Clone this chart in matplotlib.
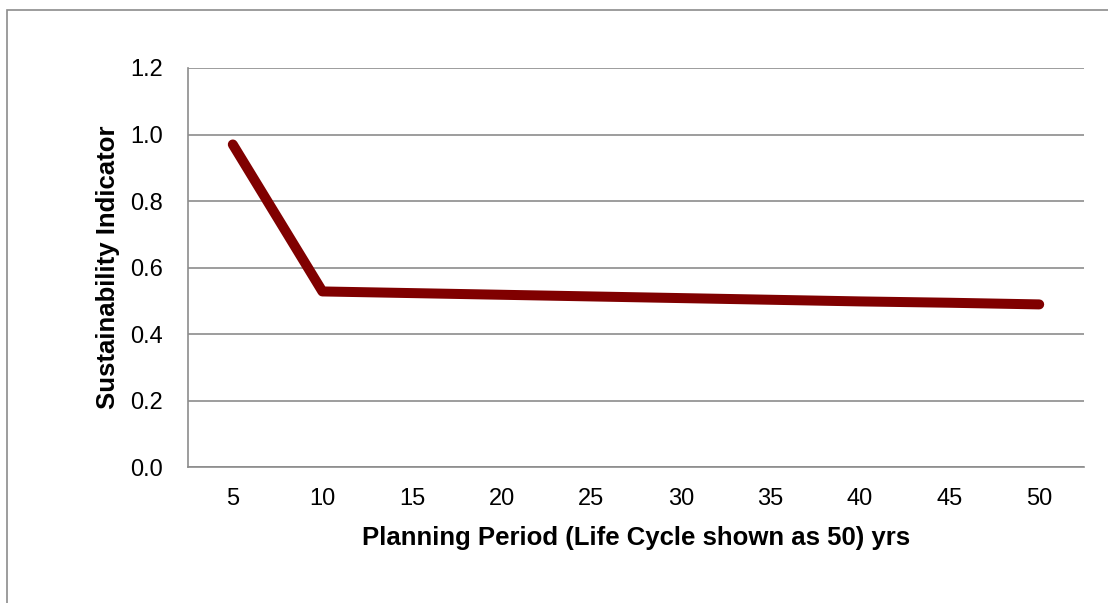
import numpy as np
import matplotlib
matplotlib.use('Agg')
import matplotlib.pyplot as plt
from matplotlib.patches import Rectangle

plt.rcParams['font.family'] = ['Liberation Sans', 'DejaVu Sans']

# --- data ---
periods = ['5', '10', '15', '20', '25', '30', '35', '40', '45', '50']
indicator = [0.97, 0.528, 0.523, 0.518, 0.513, 0.508, 0.503, 0.498, 0.494, 0.489]

fig = plt.figure(figsize=(11.08, 6.03), dpi=100)
ax = fig.add_axes([188 / 1108, 1 - 467 / 603, 896 / 1108, 399 / 603])

x = np.arange(len(periods))
ax.plot(x, indicator, color='#800000', lw=7.2, solid_capstyle='round',
        solid_joinstyle='round', zorder=3)

ax.set_xlim(-0.5, len(periods) - 0.5)
ax.set_ylim(0, 1.2)
ax.set_yticks(np.arange(0, 1.21, 0.2))
ax.set_yticklabels([f'{v:.1f}' for v in np.arange(0, 1.21, 0.2)])
ax.set_xticks(x)
ax.set_xticklabels(periods)
ax.tick_params(length=0, labelsize=17, colors='black')
ax.tick_params(axis='y', pad=18)
ax.tick_params(axis='x', pad=15)

ax.grid(axis='y', color='#8c8c8c', lw=1.2)
ax.set_axisbelow(True)
for s in ['top', 'right']:
    ax.spines[s].set_visible(False)
for s in ['left', 'bottom']:
    ax.spines[s].set_color('#8c8c8c')
    ax.spines[s].set_linewidth(1.2)

ax.set_xlabel('Planning Period (Life Cycle shown as 50) yrs', fontsize=18.5,
              fontweight='bold', labelpad=12)
ax.set_ylabel('Sustainability Indicator', fontsize=18.5, fontweight='bold',
              labelpad=7)

# chart border (cut off at right and bottom)
fig.patches.append(Rectangle((7 / 1108, -0.1), 1.2, 1.1 - 10 / 603,
                             transform=fig.transFigure, fill=False,
                             edgecolor='#8c8c8c', lw=1.2))

fig.savefig('out.png', dpi=100)
